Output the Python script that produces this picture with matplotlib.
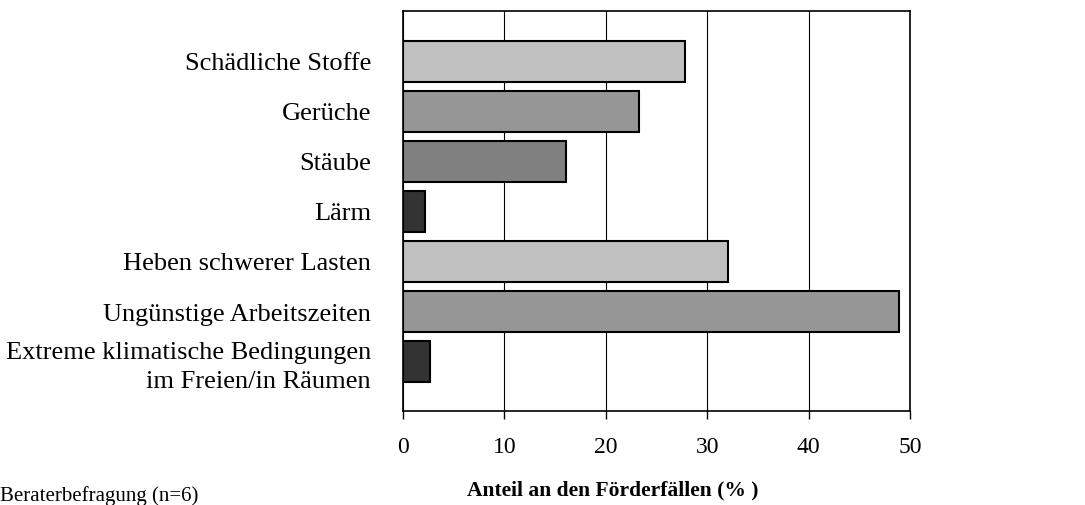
import matplotlib.pyplot as plt
import numpy as np

# data
labels = ['Schädliche Stoffe', 'Gerüche', 'Stäube', 'Lärm',
          'Heben schwerer Lasten', 'Ungünstige Arbeitszeiten',
          'Extreme klimatische Bedingungen\nim Freien/in Räumen']
values = [27.8, 23.3, 16.1, 2.2, 32.1, 48.9, 2.7]
colors = ['#c0c0c0', '#969696', '#808080', '#333333', '#c0c0c0', '#969696', '#333333']
xticks = [0, 10, 20, 30, 40, 50]

plt.rcParams['font.family'] = ['Liberation Serif', 'DejaVu Serif']

fig = plt.figure(figsize=(10.85, 5.06), dpi=100)
ax = fig.add_axes([403/1085, 1 - 412/506, 507/1085, 400/506])

y = np.arange(len(labels))
ax.barh(y, values, height=0.82, color=colors, edgecolor='black', linewidth=1.5, zorder=3)

ax.set_ylim(len(labels), -1)
ax.set_xlim(0, 50)
ax.set_yticks(y)
ax.set_yticklabels(labels, fontsize=19, linespacing=1.4)
ax.tick_params(axis='y', length=0, pad=23)
ax.set_xticks(xticks)
ax.set_xticklabels([str(t) for t in xticks], fontsize=17)
ax.tick_params(axis='x', length=6, width=1, pad=12, direction='out')
ax.xaxis.grid(True, color='black', linewidth=0.8, zorder=0)
for s in ax.spines.values():
    s.set_linewidth(1.2)

fig.text(613/1085, 1 - 490/506, 'Anteil an den Förderfällen (% )', fontsize=15.5,
         fontweight='bold', ha='center', va='center')
fig.text(0.0, 1 - 501/506, 'Beraterbefragung (n=6)', fontsize=15, ha='left', va='baseline')

plt.savefig('out.png', dpi=100)
